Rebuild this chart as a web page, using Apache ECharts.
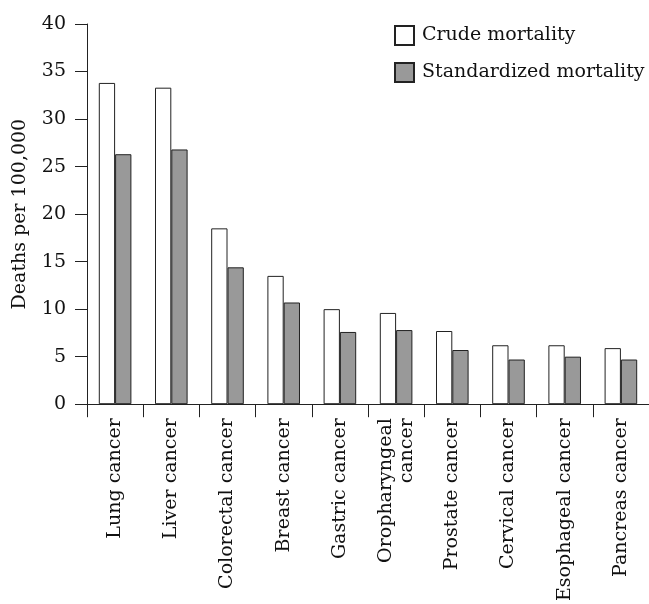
<!DOCTYPE html>
<html>
<head>
<meta charset="utf-8">
<script src="https://cdn.jsdelivr.net/npm/echarts@6/dist/echarts.min.js"></script>
<style>
html,body{margin:0;padding:0;background:#fff;}
#chart{width:649px;height:604px;}
</style>
</head>
<body>
<div id="chart"></div>
<script>
var categories = ['Lung cancer','Liver cancer','Colorectal cancer','Breast cancer','Gastric cancer','Oropharyngeal\ncancer','Prostate cancer','Cervical cancer','Esophageal cancer','Pancreas cancer'];
var crudeMortality = [33.8, 33.3, 18.5, 13.5, 10.0, 9.6, 7.7, 6.2, 6.2, 5.9];
var standardizedMortality = [26.3, 26.8, 14.4, 10.7, 7.6, 7.8, 5.7, 4.7, 5.0, 4.7];
var yTicks = [0, 5, 10, 15, 20, 25, 30, 35, 40];

var FONT = 'DejaVu Serif';
var chart = echarts.init(document.getElementById('chart'), null, {renderer:'canvas'});
chart.setOption({
  animation: false,
  backgroundColor: '#fff',
  textStyle: {fontFamily: FONT, color: '#111'},
  grid: {left: 87, right: 0, top: 24, bottom: 197, containLabel: false},
  legend: {
    orient: 'vertical', left: 394, top: 25, padding: 0,
    itemWidth: 19, itemHeight: 19, itemGap: 16,
    icon: 'rect',
    textStyle: {fontFamily: FONT, fontSize: 19, lineHeight: 19, color: '#111', padding: [0,0,0,3]},
    data: ['Crude mortality', 'Standardized mortality']
  },
  xAxis: {
    type: 'category',
    data: categories,
    boundaryGap: true,
    axisLine: {show: true, lineStyle: {color: '#222', width: 1}},
    axisTick: {show: true, length: 13, inside: false, lineStyle: {color: '#222'}},
    axisLabel: {rotate: 90, fontFamily: FONT, fontSize: 19, color: '#111', margin: 14, interval: 0, lineHeight: 21}
  },
  yAxis: {
    type: 'value', min: yTicks[0], max: yTicks[yTicks.length-1], interval: 5,
    name: 'Deaths per 100,000', nameLocation: 'middle', nameGap: 57, nameRotate: 90,
    nameTextStyle: {fontFamily: FONT, fontSize: 19, color: '#111'},
    axisLine: {show: true, lineStyle: {color: '#222', width: 1}},
    axisTick: {show: true, length: 12, lineStyle: {color: '#222'}},
    axisLabel: {fontFamily: FONT, fontSize: 19, color: '#111', margin: 21},
    splitLine: {show: false}
  },
  series: [
    {name: 'Crude mortality', type: 'bar', data: crudeMortality, barGap: '0%', barCategoryGap: '42%',
     itemStyle: {color: '#ffffff', borderColor: '#222', borderWidth: 1}},
    {name: 'Standardized mortality', type: 'bar', data: standardizedMortality, barGap: '0%', barCategoryGap: '42%',
     itemStyle: {color: '#999999', borderColor: '#222', borderWidth: 1}}
  ]
});
</script>
</body>
</html>
